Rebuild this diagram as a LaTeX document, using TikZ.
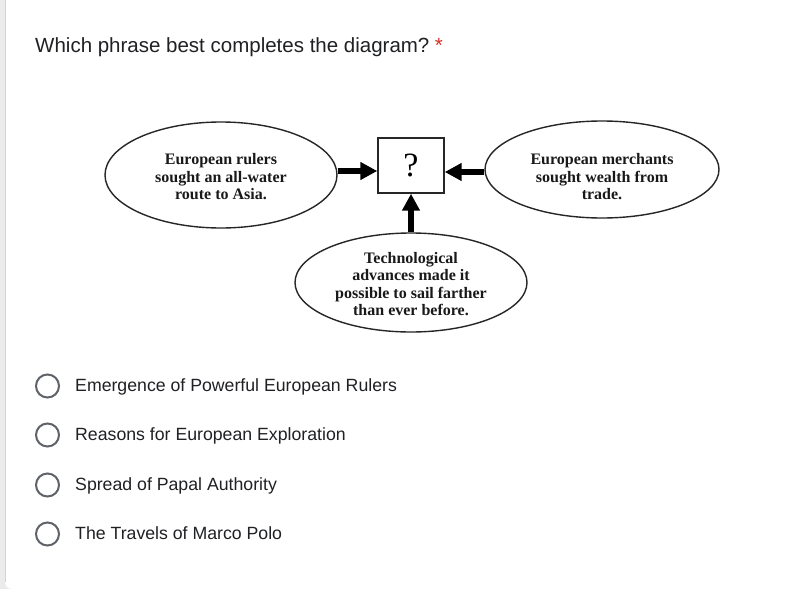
\documentclass[tikz,border=0pt]{standalone}
\usepackage{fontspec}
\setmainfont{Liberation Serif}
\newfontfamily\uisans{Liberation Sans}
\usetikzlibrary{shapes.geometric,arrows.meta}
\definecolor{ink}{HTML}{202124}
\definecolor{reqred}{HTML}{D93025}
\definecolor{radiogray}{HTML}{5F6368}
\definecolor{stripgray}{HTML}{EBEBEB}
\definecolor{stripedge}{HTML}{D4D4D4}
\begin{document}
\begin{tikzpicture}[x=1pt,y=-1pt,
  bubble/.style={ellipse,draw=black!85,line width=1.4pt,inner sep=0pt},
  btext/.style={font=\bfseries\fontsize{16}{17.5}\selectfont,align=center,inner sep=0pt,text=black!90},
  fat/.style={line width=6pt,-{Triangle[length=17pt,width=17pt]},black},
  qbox/.style={draw=black!85,line width=1.4pt,minimum width=66pt,minimum height=55pt,inner sep=0pt,font=\fontsize{34}{36}\selectfont},
  radio/.style={circle,draw=radiogray,line width=2pt,minimum size=23pt,inner sep=0pt},
  opt/.style={anchor=base west,font=\uisans\fontsize{17.7}{20}\selectfont,text=ink,inner sep=0pt}]
\useasboundingbox (0,0) rectangle (797,589);
% background card
\fill[stripgray] (0,0) rectangle (797,589);
\fill[white,rounded corners=7pt] (5,-20) rectangle (830,589);
\draw[stripedge,line width=1pt] (5,0) -- (5,582);
% title
\node[anchor=base west,font=\uisans\fontsize{20.5}{24}\selectfont,text=ink,inner sep=0pt] (title) at (35,52) {Which phrase best completes the diagram?};
\node[anchor=base west,font=\uisans\fontsize{20.5}{24}\selectfont,text=reqred,inner sep=0pt,xshift=5pt] (star) at (title.base east) {*};
% diagram
\node[bubble,minimum width=232pt,minimum height=106pt] (lftshape) at (221,175) {};
\node[btext] (lft) at (221,177) {European rulers\\sought an all-water\\route to Asia.};
\node[bubble,minimum width=234pt,minimum height=97pt] (rgtshape) at (602,169.5) {};
\node[btext] (rgt) at (602,177) {European merchants\\sought wealth from\\trade.};
\node[bubble,minimum width=232pt,minimum height=99pt] (botshape) at (411,282.5) {};
\node[btext] (bot) at (411,284) {Technological\\advances made it\\possible to sail farther\\than ever before.};
\node[qbox] (box) at (411,165.5) {?};
\coordinate (ya) at (0,171);
\coordinate (yb) at (0,172);
\draw[fat] (lftshape.east |- ya) -- (box.west |- ya);
\draw[fat] (rgtshape.west |- yb) -- (box.east |- yb);
\draw[fat] (botshape.north) -- (box.south);
% options
\node[radio] (r1) at (47.5,386) {};
\node[radio] (r2) at (47.5,435) {};
\node[radio] (r3) at (47.5,485) {};
\node[radio] (r4) at (47.5,534) {};
\node[opt] (o1) at (75,391.5) {Emergence of Powerful European Rulers};
\node[opt] (o2) at (75,440.5) {Reasons for European Exploration};
\node[opt] (o3) at (75,490.5) {Spread of Papal Authority};
\node[opt] (o4) at (75,539.5) {The Travels of Marco Polo};
\end{tikzpicture}
\end{document}
